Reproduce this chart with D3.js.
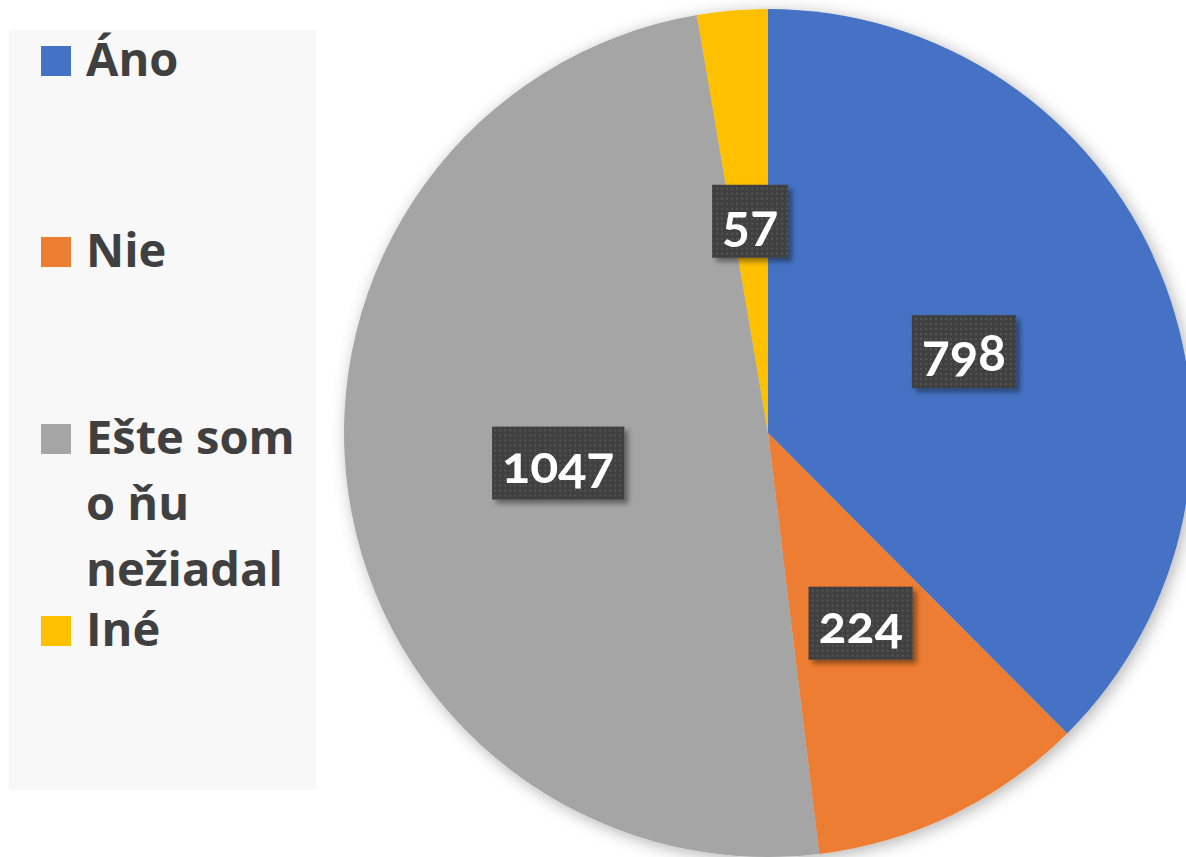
<!DOCTYPE html>
<html><head><meta charset="utf-8">
<script src="https://cdn.jsdelivr.net/npm/d3@7"></script>
<style>body{margin:0;background:#fff}svg{display:block}</style>
</head><body>
<svg id="chart" width="1186" height="857"></svg>
<script>
const categories = ["Áno", "Nie", "Ešte som o ňu nežiadal", "Iné"];
const legendLines = [["Áno"], ["Nie"], ["Ešte som", "o ňu", "nežiadal"], ["Iné"]];
const values = [798, 224, 1047, 57];
const colors = ["#4472C4", "#ED7D31", "#A5A5A5", "#FFC000"];

const svg = d3.select("#chart");
const W = 1186, H = 857;
const cx = 768, cy = 433, R = 424;

const defs = svg.append("defs");
const f1 = defs.append("filter").attr("id","pieShadow").attr("x","-20%").attr("y","-20%").attr("width","140%").attr("height","140%");
f1.append("feDropShadow").attr("dx",3).attr("dy",3).attr("stdDeviation",8).attr("flood-color","#000").attr("flood-opacity",0.3);
const f2 = defs.append("filter").attr("id","boxShadow").attr("x","-20%").attr("y","-20%").attr("width","150%").attr("height","150%");
f2.append("feDropShadow").attr("dx",4).attr("dy",4).attr("stdDeviation",2.5).attr("flood-color","#000").attr("flood-opacity",0.4);
const pat = defs.append("pattern").attr("id","dots").attr("patternUnits","userSpaceOnUse").attr("width",5).attr("height",5);
pat.append("rect").attr("width",5).attr("height",5).attr("fill","#404040");
pat.append("rect").attr("x",1).attr("y",1).attr("width",2).attr("height",2).attr("fill","#555555");

// Legend
const lg = svg.append("g");
lg.append("rect").attr("x",9).attr("y",30).attr("width",307).attr("height",760).attr("fill","#F8F8F8");
const legendBase = [76, 267, 454, 646];
const lineH = 66;
const items = lg.selectAll("g.item").data(categories).join("g").attr("class","item");
items.append("rect")
  .attr("x",41).attr("y",(d,i)=>legendBase[i]-30).attr("width",30).attr("height",30)
  .attr("fill",(d,i)=>colors[i]);
items.append("text")
  .attr("x",86).attr("y",(d,i)=>legendBase[i])
  .attr("font-family","'Open Sans', sans-serif").attr("font-weight",700).attr("font-size",47)
  .attr("fill","#404040")
  .selectAll("tspan").data((d,i)=>legendLines[i]).join("tspan")
  .attr("x",86).attr("dy",(d,j)=>j===0?0:lineH).text(d=>d);

// Pie
const pie = d3.pie().sort(null).value(d=>d);
const arcs = pie(values);
const arc = d3.arc().innerRadius(0).outerRadius(R);
const pg = svg.append("g").attr("transform",`translate(${cx},${cy})`);
pg.append("g").attr("filter","url(#pieShadow)")
  .selectAll("path").data(arcs).join("path")
  .attr("d",arc).attr("fill",(d,i)=>colors[i]);

// Labels
const labG = pg.selectAll("g.lab").data(arcs).join("g").attr("class","lab")
  .attr("transform",d=>`translate(${arc.centroid(d)})`);
const txt = labG.append("text")
  .attr("text-anchor","middle").attr("y",19)
  .attr("font-family","Lato, sans-serif").attr("font-weight",700).attr("font-size",52)
  .style("font-variant-numeric","oldstyle-nums")
  .attr("fill","#fff").text(d=>d.data);
labG.each(function(){
  const g = d3.select(this);
  const t = g.select("text");
  const w = t.node().getComputedTextLength();
  g.insert("rect","text").attr("x",-w/2-10).attr("y",-37).attr("width",w+20).attr("height",73)
    .attr("fill","url(#dots)").attr("filter","url(#boxShadow)");
});
</script>
</body></html>
